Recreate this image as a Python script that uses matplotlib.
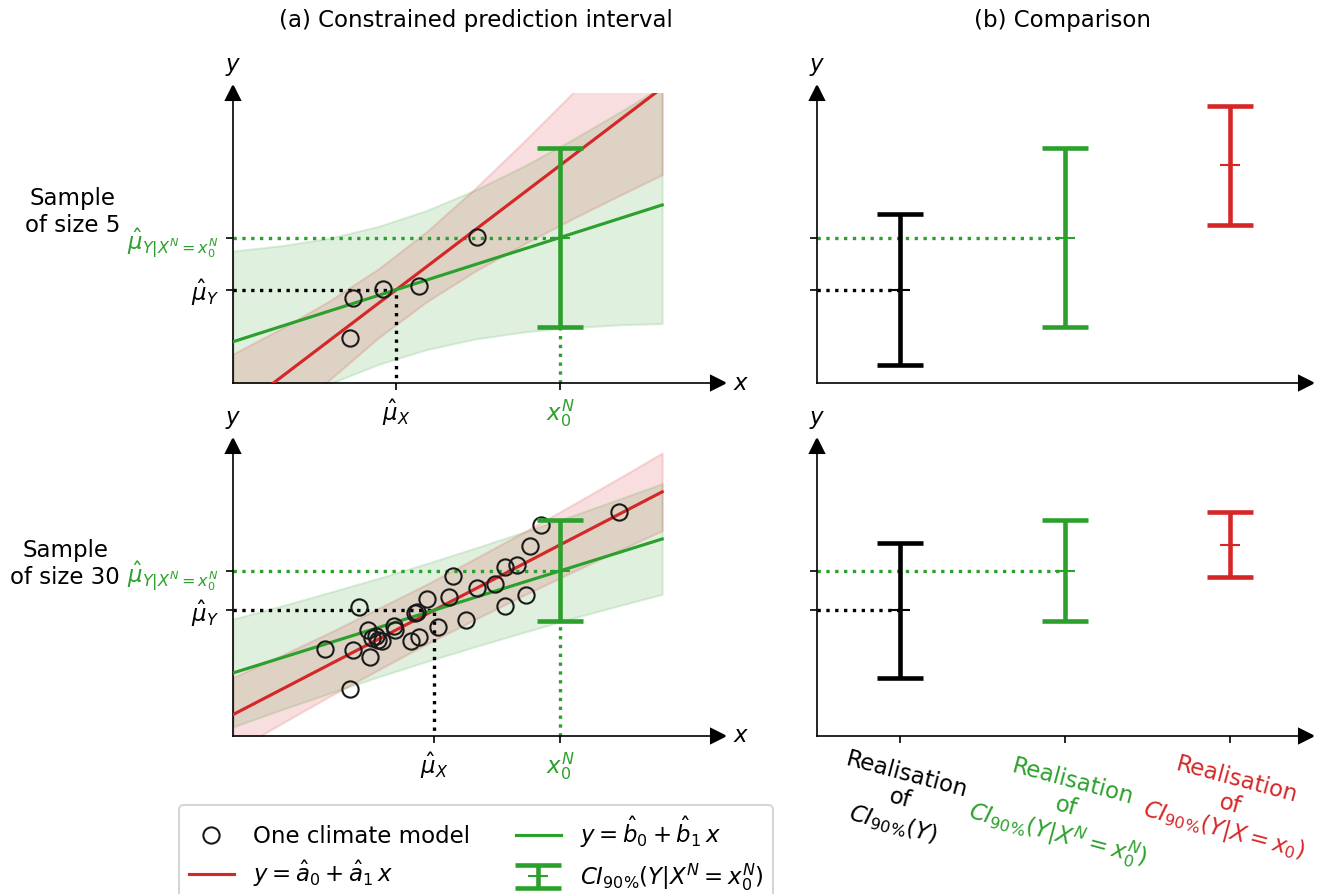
import numpy as np
import matplotlib
matplotlib.use("Agg")
import matplotlib.pyplot as plt

GREEN = "#2ca02c"
RED = "#d62728"
plt.rcParams["font.size"] = 11

# ---------------- data ----------------
# sample of size 5 (one climate model per point)
x5 = [2.41, 2.47, 3.09, 3.84, 5.03]
y5 = [1.55, 2.93, 3.24, 3.34, 5.03]
# sample of size 30
x30 = [1.90, 2.41, 2.47, 2.60, 2.78, 2.82, 2.95, 3.07, 2.99, 3.32,
       3.34, 3.67, 3.84, 3.75, 3.79, 4.00, 4.23, 4.45, 4.54, 4.80,
       5.03, 5.40, 5.61, 5.61, 5.86, 6.04, 6.12, 6.35, 7.96, 2.87]
y30 = [3.00, 1.62, 2.97, 4.45, 3.66, 2.72, 3.45, 3.28, 3.31, 3.79,
       3.66, 3.28, 3.41, 4.24, 4.28, 4.72, 3.76, 4.79, 5.52, 4.00,
       5.10, 5.24, 5.83, 4.48, 5.90, 4.86, 6.55, 7.28, 7.72, 3.38]

x0N = 6.74                      # observed constraint x_0^N
slope_red5, slope_green5 = 1.27, 0.533
slope_red30, slope_green30 = 0.868, 0.522

# half-widths of the prediction bands along x
band_x = [0, 1, 2, 3, 4, 5, 6, 7, 8, 8.85]
red_hw5 = [2.06, 1.67, 1.36, 1.19, 1.21, 1.43, 1.77, 2.17, 2.61, 3.00]
green_hw5 = [3.13, 2.78, 2.51, 2.38, 2.40, 2.57, 2.86, 3.24, 3.68, 4.09]
red_hw30 = [1.28, 1.18, 1.10, 1.06, 1.03, 1.05, 1.09, 1.16, 1.25, 1.34]
green_hw30 = [1.86, 1.79, 1.74, 1.70, 1.69, 1.70, 1.73, 1.77, 1.84, 1.91]

# half-widths of the three intervals: unconstrained, constrained, true x0
ci_half5 = [2.60, 3.10, 2.05]
ci_half30 = [2.33, 1.74, 1.12]

comp_pos = [1, 2, 3]
comp_labels = ["Realisation\nof\n$CI_{90\\%}(Y)$",
               "Realisation\nof\n$CI_{90\\%}(Y|X^N=x_0^N)$",
               "Realisation\nof\n$CI_{90\\%}(Y|X=x_0)$"]
comp_colors = ["black", GREEN, RED]

# ---------------- figure ----------------
W, H = 1330, 894
fig = plt.figure(figsize=(W / 150, H / 150), dpi=150)


def fa(l, b, r, t):
    return [l / W, 1 - b / H, (r - l) / W, (b - t) / H]


ax_l5 = fig.add_axes(fa(233, 383, 718, 93))
ax_l30 = fig.add_axes(fa(233, 736, 718, 446))
ax_r5 = fig.add_axes(fa(817, 383, 1306, 93))
ax_r30 = fig.add_axes(fa(817, 736, 1306, 446))


def arrows(ax):
    for s in ["top", "right"]:
        ax.spines[s].set_visible(False)
    ax.plot(1, 0, ">k", ms=7, transform=ax.transAxes, clip_on=False)
    ax.plot(0, 1, "^k", ms=7, transform=ax.transAxes, clip_on=False)
    ax.annotate("$y$", xy=(0, 1), xycoords="axes fraction", xytext=(0, 12.5),
                textcoords="offset points", ha="center", va="center", fontsize=11)


eb_kw = dict(fmt="_", ms=9.5, elinewidth=2.2, capsize=11, capthick=2.2)


def cerrorbar(ax, x, y, h, col):
    eb = ax.errorbar([x], [y], yerr=[h], color=col, zorder=5, **eb_kw)
    eb[0].set_markeredgewidth(1.0)
    return eb


handles = {}
for ax_l, ax_r, xs, ys, sr, sg, rhw, ghw, cih in [
        (ax_l5, ax_r5, x5, y5, slope_red5, slope_green5, red_hw5, green_hw5, ci_half5),
        (ax_l30, ax_r30, x30, y30, slope_red30, slope_green30, red_hw30, green_hw30, ci_half30)]:
    xs = np.array(xs); ys = np.array(ys)
    bx = np.array(band_x)
    mux, muy = xs.mean(), ys.mean()
    red_c = muy + sr * (bx - mux)
    green_c = muy + sg * (bx - mux)
    g0 = muy + sg * (x0N - mux)
    r0 = muy + sr * (x0N - mux)

    ax = ax_l
    ax.fill_between(bx, green_c - np.array(ghw), green_c + np.array(ghw),
                    color=GREEN, alpha=0.15, zorder=1)
    ax.fill_between(bx, red_c - np.array(rhw), red_c + np.array(rhw),
                    color=RED, alpha=0.15, zorder=1)
    lr, = ax.plot(bx, red_c, color=RED, lw=1.5, zorder=3)
    lg, = ax.plot(bx, green_c, color=GREEN, lw=1.5, zorder=3)
    ax.plot([0, mux, mux], [muy, muy, 0], ":", color="k", lw=1.6, zorder=2)
    ax.plot([0, x0N], [g0, g0], ":", color=GREEN, lw=1.6, zorder=2)
    ax.plot([x0N, x0N], [0, g0 - cih[1]], ":", color=GREEN, lw=1.6, zorder=2)
    pts, = ax.plot(xs, ys, "o", mfc="none", mec="#1a1a1a", ms=7.8, mew=1,
                   ls="none", zorder=4)
    eb = cerrorbar(ax, x0N, g0, cih[1], GREEN)
    ax.set_xlim(0, 10)
    ax.set_ylim(0, 10)
    arrows(ax)
    ax.annotate("$x$", xy=(1, 0), xycoords="axes fraction", xytext=(11, 0),
                textcoords="offset points", ha="center", va="center", fontsize=11)
    ax.set_xticks([mux, x0N])
    ax.set_xticklabels(["$\\hat{\\mu}_X$", "$x_0^N$"])
    ax.get_xticklabels()[1].set_color(GREEN)
    ax.set_yticks([muy, g0])
    ax.set_yticklabels(["$\\hat{\\mu}_Y$", "$\\hat{\\mu}_{Y|X^N=x_0^N}$"])
    ax.get_yticklabels()[1].set_color(GREEN)
    handles = dict(pts=pts, red=lr, green=lg, eb=eb)

    ax = ax_r
    ax.plot([0.5, comp_pos[0]], [muy, muy], ":", color="k", lw=1.6, zorder=2)
    ax.plot([0.5, comp_pos[1]], [g0, g0], ":", color=GREEN, lw=1.6, zorder=2)
    centers = [muy, g0, r0]
    for p, c, h, col in zip(comp_pos, centers, cih, comp_colors):
        cerrorbar(ax, p, c, h, col)
    ax.set_xlim(0.5, 3.46)
    ax.set_ylim(0, 10)
    arrows(ax)
    ax.set_yticks([muy, g0])
    ax.set_yticklabels([])

ax_r5.set_xticks([])
ax_r30.set_xticks(comp_pos)
ax_r30.set_xticklabels(comp_labels, rotation=-15, ha="center", multialignment="center",
                       linespacing=1.1)
ax_r30.tick_params(axis="x", pad=2)
for t, c in zip(ax_r30.get_xticklabels(), comp_colors):
    t.set_color(c)

fig.text(475.5 / W, 1 - 21 / H, "(a) Constrained prediction interval",
         ha="center", va="center", fontsize=11)
fig.text(1062 / W, 1 - 21 / H, "(b) Comparison", ha="center", va="center", fontsize=11)
fig.text(120 / W, 1 - 212 / H, "Sample\nof size 5", ha="right", va="center",
         multialignment="center", fontsize=11)
fig.text(120 / W, 1 - 564 / H, "Sample\nof size 30", ha="right", va="center",
         multialignment="center", fontsize=11)

fig.legend([handles["pts"], handles["red"], handles["green"], handles["eb"]],
           ["One climate model", "$y=\\hat{a}_0+\\hat{a}_1\\,x$",
            "$y=\\hat{b}_0+\\hat{b}_1\\,x$", "$CI_{90\\%}(Y|X^N=x_0^N)$"],
           loc="upper center", bbox_to_anchor=(476 / W, 1 - 805 / H), ncol=2,
           fontsize=11, borderaxespad=0)

fig.savefig("out.png", dpi=150)
